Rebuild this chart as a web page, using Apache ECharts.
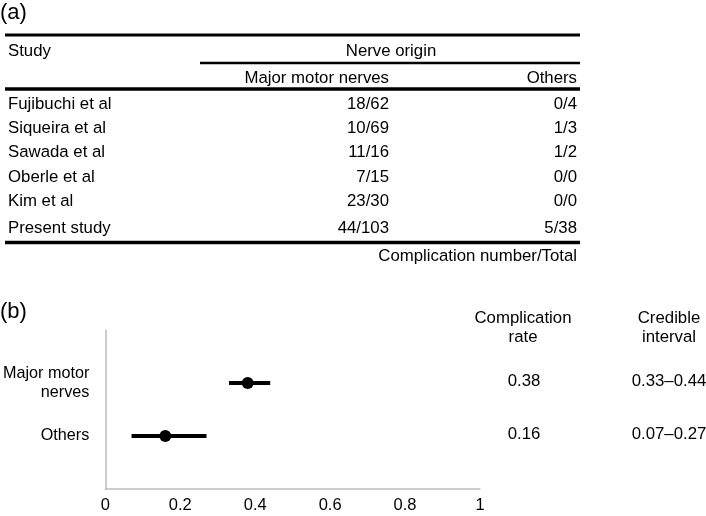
<!DOCTYPE html>
<html>
<head>
<meta charset="utf-8">
<script src="https://cdn.jsdelivr.net/npm/echarts@6/dist/echarts.min.js"></script>
<style>
  html, body { margin: 0; padding: 0; background: #fff; }
  #chart { width: 706px; height: 516px; }
</style>
</head>
<body>
<div id="chart"></div>
<script>
// (a) 表格数据
const studies = ["Fujibuchi et al", "Siqueira et al", "Sawada et al", "Oberle et al", "Kim et al", "Present study"];
const majorMotor = ["18/62", "10/69", "11/16", "7/15", "23/30", "44/103"];
const othersCol = ["0/4", "1/3", "1/2", "0/0", "0/0", "5/38"];

// (b) 森林图数据
const groups = ["Others", "Major motor\nnerves"];
const rate = [0.16, 0.38];
const lower = [0.07, 0.33];
const upper = [0.27, 0.44];
const rateText = ["0.16", "0.38"];
const intervalText = ["0.07–0.27", "0.33–0.44"];

const FONT = "Liberation Sans, Arial, Helvetica, sans-serif";

const myChart = echarts.init(document.getElementById("chart"));

function txt(text, x, y, align, size) {
  return {
    type: "text",
    silent: true,
    style: {
      text: text, x: x, y: y,
      fill: "#000",
      fontSize: size || 16.8,
      fontFamily: FONT,
      align: align || "left", textAlign: align || "left",
      verticalAlign: "middle", textVerticalAlign: "middle"
    }
  };
}
function rule(x1, x2, y, w) {
  return {
    type: "line", silent: true,
    shape: { x1: x1, y1: y, x2: x2, y2: y },
    style: { stroke: "#000", lineWidth: w }
  };
}

let option = {
  backgroundColor: "#fff",
  animation: false,
  grid: { left: 104, right: 226, top: 330, bottom: 27, containLabel: false },
  xAxis: {
    type: "value",
    min: 0,
    max: 1,
    interval: 0.2,
    axisLine: { show: true, onZero: false, lineStyle: { color: "#bdbdbd", width: 1.5 } },
    axisTick: { show: false },
    splitLine: { show: false },
    axisLabel: { color: "#000", fontSize: 16.5, fontFamily: FONT, margin: 8 }
  },
  yAxis: {
    type: "category",
    boundaryGap: false,
    data: [""].concat(groups, [""]),
    axisLine: { show: true, lineStyle: { color: "#bdbdbd", width: 1.5 } },
    axisTick: { show: false },
    splitLine: { show: false },
    axisLabel: { interval: 0, color: "#000", fontSize: 16.2, lineHeight: 19, fontFamily: FONT, margin: 16 }
  },
  series: [
    {
      // 可信区间
      type: "custom",
      renderItem: function (params, api) {
        const p1 = api.coord([api.value(0), api.value(2)]);
        const p2 = api.coord([api.value(1), api.value(2)]);
        return {
          type: "line",
          shape: { x1: p1[0], y1: p1[1], x2: p2[0], y2: p2[1] },
          style: { stroke: "#000", lineWidth: 4 }
        };
      },
      encode: { x: [0, 1], y: 2 },
      data: groups.map((g, i) => [lower[i], upper[i], i + 1]),
      z: 2
    },
    {
      type: "scatter",
      symbolSize: 12,
      itemStyle: { color: "#000", opacity: 1 },
      data: rate.map((v, i) => [v, i + 1]),
      z: 3
    }
  ]
};
myChart.setOption(option);

// 表格和右侧文字
let g = [];
g.push(txt("(a)", 0, 13, "left", 22));
g.push(txt("(b)", 0, 312, "left", 22));
g.push(rule(5, 580, 35, 3));
g.push(txt("Study", 8, 51));
g.push(txt("Nerve origin", 391, 51, "center"));
g.push(rule(200, 580, 63, 2.5));
g.push(txt("Major motor nerves", 389, 78, "right"));
g.push(txt("Others", 577, 78, "right"));
g.push(rule(5, 580, 89, 3.5));
studies.forEach((s, i) => {
  const y = i < 5 ? 104 + i * 24.4 : 228;
  g.push(txt(s, 8, y));
  g.push(txt(majorMotor[i], 389, y, "right"));
  g.push(txt(othersCol[i], 577, y, "right"));
});
g.push(rule(5, 580, 242.5, 3.5));
g.push(txt("Complication number/Total", 577, 256, "right"));

g.push(txt("Complication", 523, 318, "center"));
g.push(txt("rate", 523, 337, "center"));
g.push(txt("Credible", 669, 318, "center"));
g.push(txt("interval", 669, 337, "center"));
groups.forEach((name, i) => {
  const y = myChart.convertToPixel({ yAxisIndex: 0 }, i + 1) - 1.5;
  g.push(txt(rateText[i], 524, y, "center"));
  g.push(txt(intervalText[i], 669, y, "center"));
});

myChart.setOption({ graphic: { elements: g } });
window.onresize = () => { myChart.resize(); };
</script>
</body>
</html>
